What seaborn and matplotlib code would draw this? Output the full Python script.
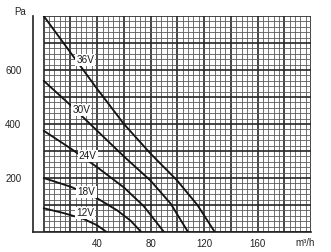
import numpy as np
import pandas as pd
import matplotlib
matplotlib.use("Agg")
import matplotlib.pyplot as plt
import seaborn as sns

# ---- data ----
flow_36 = [0, 20, 40, 60, 80, 100, 115, 128]
pa_36 = [800, 665, 530, 400, 290, 190, 100, 0]
flow_30 = [0, 20, 40, 60, 80, 95, 108]
pa_30 = [560, 470, 375, 280, 190, 105, 0]
flow_24 = [0, 20, 40, 60, 75, 90]
pa_24 = [375, 310, 240, 165, 95, 0]
flow_18 = [0, 20, 40, 55, 65, 73]
pa_18 = [200, 168, 125, 80, 42, 0]
flow_12 = [0, 15, 30, 40, 47]
pa_12 = [88, 70, 48, 25, 0]

series_names = ["36V", "30V", "24V", "18V", "12V"]
label_flow = [31, 28, 33, 32, 31]
label_pa = [637, 452, 281, 148, 70]

x_ticks = [40, 80, 120, 160]
x_ticklabels = ["40", "80", "120", "160"]
y_ticks = [200, 400, 600]
y_ticklabels = ["200", "400", "600"]
x_unit = "m³/h"
y_unit = "Pa"

frames = []
for name, f, p in zip(series_names,
                      [flow_36, flow_30, flow_24, flow_18, flow_12],
                      [pa_36, pa_30, pa_24, pa_18, pa_12]):
    frames.append(pd.DataFrame({"flow": f, "pa": p, "voltage": name}))
df = pd.concat(frames, ignore_index=True)

sns.set_style("white")
plt.rcParams["font.family"] = ["Liberation Sans", "DejaVu Sans"]

fig = plt.figure(figsize=(3.31, 2.52), dpi=100)
ax = fig.add_axes([32.5 / 331, 20 / 252, (311 - 32.5) / 331, 216 / 252])

XMAX, YMAX = 200, 800
ax.set_xlim(-8.38, XMAX)
ax.set_ylim(0, YMAX)

# graph-paper grid limited to the data region
minor_col, major_col = "#5a5a5a", "#262626"
for xv in np.arange(0, XMAX + 1, 4):
    major = xv % 20 == 0
    ax.vlines(xv, 0, YMAX, color=major_col if major else minor_col,
              lw=1.2 if major else 0.6, zorder=1)
for yv in np.arange(0, YMAX + 1, 20):
    major = yv % 100 == 0
    ax.hlines(yv, 0, XMAX, color=major_col if major else minor_col,
              lw=1.2 if major else 0.6, zorder=1)

sns.lineplot(data=df, x="flow", y="pa", hue="voltage", units="voltage",
             estimator=None, palette=["#151515"] * 5, legend=False,
             lw=1.35, ax=ax, zorder=3, sort=False)

for name, lx, ly in zip(series_names, label_flow, label_pa):
    ax.text(lx, ly, name, ha="center", va="center", fontsize=7.2,
            color="#1a1a1a", zorder=4,
            bbox=dict(boxstyle="square,pad=0.12", fc="white", ec="none"))

for s in ["top", "right"]:
    ax.spines[s].set_visible(False)
ax.spines["left"].set_color("#222222")
ax.spines["bottom"].set_color("#222222")
ax.spines["left"].set_linewidth(1.2)
ax.spines["bottom"].set_linewidth(1.2)

ax.set_yticks(np.arange(100, YMAX + 1, 100))
ax.set_yticklabels([y_ticklabels[y_ticks.index(v)] if v in y_ticks else ""
                    for v in np.arange(100, YMAX + 1, 100)])
ax.tick_params(axis="y", direction="in", length=8, width=1.2,
               color="#222222", pad=8, labelsize=7, labelcolor="#222222")
ax.set_xticks(x_ticks)
ax.set_xticklabels(x_ticklabels)
ax.tick_params(axis="x", length=0, pad=5, labelsize=7, labelcolor="#222222")
ax.set_xlabel("")
ax.set_ylabel("")

ax.annotate(x_unit, xy=(1, 0), xycoords="axes fraction", xytext=(-6, -11),
            textcoords="offset pixels", ha="center", va="center",
            fontsize=7, color="#222222")
ax.annotate(y_unit, xy=(0, 1), xycoords="axes fraction", xytext=(-12, 4),
            textcoords="offset pixels", ha="center", va="center",
            fontsize=7, color="#222222")

fig.savefig("out.png", dpi=100)
